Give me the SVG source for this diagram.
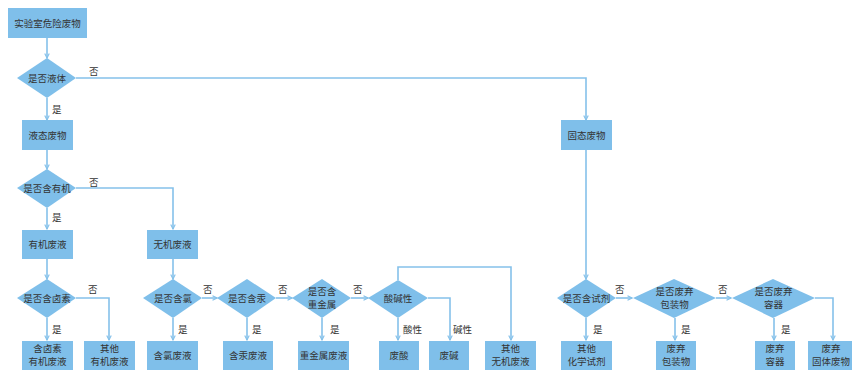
<svg xmlns="http://www.w3.org/2000/svg" width="852" height="370" viewBox="0 0 852 370">
<defs>
<marker id="ah" viewBox="0 0 8 8" refX="7" refY="4" markerWidth="6" markerHeight="6" orient="auto" markerUnits="userSpaceOnUse">
<path d="M1,1 L7,4 L1,7" fill="none" stroke="#85c1ea" stroke-width="1.5"/>
</marker>
<style>
.b{fill:#7fbfea}
.t{font-family:"Noto Sans CJK SC","Noto Sans",sans-serif;font-size:9.5px;fill:#333;text-anchor:middle}
.l{font-family:"Noto Sans CJK SC","Noto Sans",sans-serif;font-size:9.5px;fill:#333}
.c{fill:none;stroke:#85c1ea;stroke-width:1.6;marker-end:url(#ah)}
</style>
</defs>
<rect width="852" height="370" fill="#fff"/>
<g id="connectors">
<path class="c" d="M47,38 V58"/>
<path class="c" d="M76,78 H586 V120"/>
<path class="c" d="M47,98 V120"/>
<path class="c" d="M47,150 V169"/>
<path class="c" d="M76,188 H173 V229"/>
<path class="c" d="M47,208 V229"/>
<path class="c" d="M47,259 V279"/>
<path class="c" d="M76,298 H109 V340"/>
<path class="c" d="M47,318 V340"/>
<path class="c" d="M173,259 V279"/>
<path class="c" d="M173,318 V340"/>
<path class="c" d="M202,298 H217"/>
<path class="c" d="M247,318 V340"/>
<path class="c" d="M276,298 H292"/>
<path class="c" d="M322,318 V340"/>
<path class="c" d="M351,298 H368"/>
<path class="c" d="M398,280 V267 H511 V340"/>
<path class="c" d="M398,318 V340"/>
<path class="c" d="M428,298 H450 V340"/>
<path class="c" d="M586,150 V279"/>
<path class="c" d="M586,318 V340"/>
<path class="c" d="M616,298 H632"/>
<path class="c" d="M675,318 V340"/>
<path class="c" d="M716,298 H731"/>
<path class="c" d="M774,318 V340"/>
<path class="c" d="M815,298 H833 V340"/>
</g>
<g id="labels">
<text class="l" x="89" y="75">否</text>
<text class="l" x="52" y="113">是</text>
<text class="l" x="89" y="186">否</text>
<text class="l" x="52" y="221">是</text>
<text class="l" x="88" y="293">否</text>
<text class="l" x="52" y="333">是</text>
<text class="l" x="203" y="293">否</text>
<text class="l" x="178" y="333">是</text>
<text class="l" x="278" y="293">否</text>
<text class="l" x="252" y="333">是</text>
<text class="l" x="353" y="293">否</text>
<text class="l" x="330" y="333">是</text>
<text class="l" x="403" y="333">酸性</text>
<text class="l" x="453" y="333">碱性</text>
<text class="l" x="615" y="293">否</text>
<text class="l" x="593" y="333">是</text>
<text class="l" x="718" y="293">否</text>
<text class="l" x="681" y="333">是</text>
<text class="l" x="781" y="333">是</text>
</g>
<g id="n_start"><rect class="b" x="8" y="8" width="79" height="30"/><text class="t" x="47.5" y="26.5">实验室危险废物</text></g>
<g id="d_liquid"><path class="b" d="M47,58 L76,78 L47,98 L17,78 Z"/><text class="t" x="47" y="81.5">是否液体</text></g>
<g id="n_liquid"><rect class="b" x="22" y="120" width="51" height="30"/><text class="t" x="47.5" y="138.5">液态废物</text></g>
<g id="n_solid"><rect class="b" x="561" y="120" width="51" height="30"/><text class="t" x="586.5" y="138.5">固态废物</text></g>
<g id="d_organic"><path class="b" d="M47,169 L76,188 L47,208 L17,188 Z"/><text class="t" x="47" y="191.5">是否含有机</text></g>
<g id="n_org"><rect class="b" x="22" y="230" width="51" height="29"/><text class="t" x="47.5" y="248">有机废液</text></g>
<g id="n_inorg"><rect class="b" x="147" y="230" width="51" height="29"/><text class="t" x="172.5" y="248">无机废液</text></g>
<g id="d_halo"><path class="b" d="M47,279 L76,298 L47,318 L17,298 Z"/><text class="t" x="47" y="301.5">是否含卤素</text></g>
<g id="d_cl"><path class="b" d="M173,279 L202,298 L173,318 L143,298 Z"/><text class="t" x="173" y="301.5">是否含氯</text></g>
<g id="d_hg"><path class="b" d="M247,279 L276,298 L247,318 L217,298 Z"/><text class="t" x="247" y="301.5">是否含汞</text></g>
<g id="d_hm"><path class="b" d="M322,279 L351,298 L322,318 L292,298 Z"/><text class="t" x="322" y="295">是否含</text><text class="t" x="322" y="307.5">重金属</text></g>
<g id="d_ph"><path class="b" d="M398,280 L428,298 L398,318 L368,298 Z"/><text class="t" x="398" y="301.5">酸碱性</text></g>
<g id="d_reag"><path class="b" d="M586,279 L616,298 L586,318 L557,298 Z"/><text class="t" x="586.5" y="301.5">是否含试剂</text></g>
<g id="d_pack"><path class="b" d="M674,279 L716,298 L674,318 L633,298 Z"/><text class="t" x="674.5" y="295">是否废弃</text><text class="t" x="674.5" y="307.5">包装物</text></g>
<g id="d_cont"><path class="b" d="M773,279 L815,298 L773,318 L732,298 Z"/><text class="t" x="773.5" y="295">是否废弃</text><text class="t" x="773.5" y="307.5">容器</text></g>
<g id="n_halo"><rect class="b" x="22" y="341" width="51" height="29"/><text class="t" x="47.5" y="352">含卤素</text><text class="t" x="47.5" y="364.5">有机废液</text></g>
<g id="n_otherorg"><rect class="b" x="84" y="341" width="51" height="29"/><text class="t" x="109.5" y="352">其他</text><text class="t" x="109.5" y="364.5">有机废液</text></g>
<g id="n_cl"><rect class="b" x="147" y="341" width="51" height="29"/><text class="t" x="172.5" y="359">含氯废液</text></g>
<g id="n_hg"><rect class="b" x="223" y="341" width="50" height="29"/><text class="t" x="248" y="359">含汞废液</text></g>
<g id="n_hm"><rect class="b" x="298" y="341" width="51" height="29"/><text class="t" x="323.5" y="359">重金属废液</text></g>
<g id="n_acid"><rect class="b" x="379" y="341" width="40" height="29"/><text class="t" x="399" y="359">废酸</text></g>
<g id="n_base"><rect class="b" x="429" y="341" width="40" height="29"/><text class="t" x="449" y="359">废碱</text></g>
<g id="n_otherinorg"><rect class="b" x="485" y="341" width="51" height="29"/><text class="t" x="510.5" y="352">其他</text><text class="t" x="510.5" y="364.5">无机废液</text></g>
<g id="n_chem"><rect class="b" x="561" y="341" width="51" height="29"/><text class="t" x="586.5" y="352">其他</text><text class="t" x="586.5" y="364.5">化学试剂</text></g>
<g id="n_pack"><rect class="b" x="656" y="341" width="40" height="29"/><text class="t" x="676" y="352">废弃</text><text class="t" x="676" y="364.5">包装物</text></g>
<g id="n_cont"><rect class="b" x="755" y="341" width="40" height="29"/><text class="t" x="775" y="352">废弃</text><text class="t" x="775" y="364.5">容器</text></g>
<g id="n_solidw"><rect class="b" x="808" y="341" width="44" height="29"/><text class="t" x="831" y="352">废弃</text><text class="t" x="831" y="364.5">固体废物</text></g>
</svg>
